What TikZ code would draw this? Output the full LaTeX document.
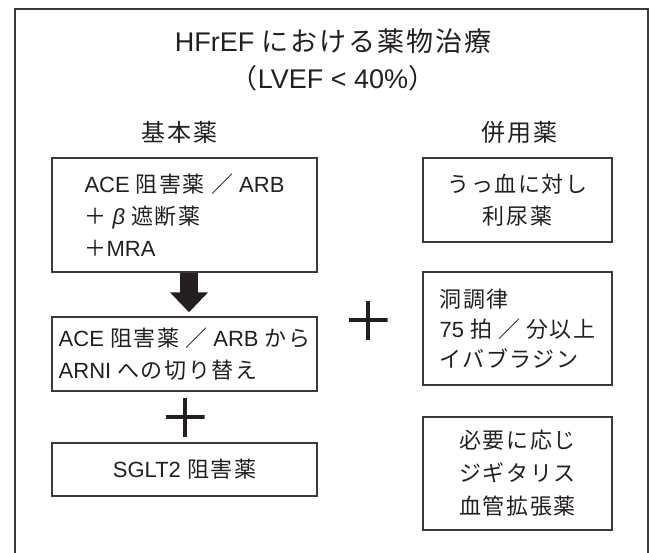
\documentclass[tikz,border=0pt]{standalone}
\usepackage{fontspec}
\setmainfont{Liberation Sans}
\newfontfamily\jpf[LetterSpace=7]{Noto Sans CJK JP}
\newcommand\jp[1]{{\jpf #1}}
\usetikzlibrary{arrows.meta}
\definecolor{ink}{HTML}{231F20}
\definecolor{edge}{HTML}{3A3A3A}
\tikzset{
  boxnode/.style={draw=edge, line width=1.4pt, text=ink, inner sep=0pt,
    font=\fontsize{22}{32}\selectfont},
  leftbox/.style={boxnode, align=left},
  centerbox/.style={boxnode, align=center},
  heading/.style={text=ink, font=\fontsize{24}{28}\selectfont},
  titlenode/.style={text=ink, align=center, font=\fontsize{27}{37}\selectfont},
  plussign/.style={minimum size=39pt, inner sep=0pt,
    path picture={\draw[line width=3.2pt, ink]
      (path picture bounding box.north) -- (path picture bounding box.south)
      (path picture bounding box.west) -- (path picture bounding box.east);}},
  bigarrow/.style={draw=ink, line width=18pt, -{Triangle[width=37pt,length=20pt]}}
}
\begin{document}
\begin{tikzpicture}[x=1pt,y=-1pt]
\useasboundingbox (0,0) rectangle (652,553);
% outer frame (open at bottom)
\draw[edge, line width=2pt] (14.7,553) -- (14.7,9.5) -- (648,9.5) -- (648,553);

\node[titlenode] (title) at (333,59.5) {HFrEF \jp{における薬物治療}\\\jp{（}LVEF < 40\%\jp{）}};

\node[heading] (h1) at (179.5,132) {\jp{基本薬}};
\node[heading] (h2) at (519.5,132) {\jp{併用薬}};

\node[leftbox, minimum width=265pt, minimum height=114pt] (b1) at (184.5,215)
  {ACE \jp{阻害薬} \jp{／} ARB\\\jp{＋} {\itshape β} \jp{遮断薬}\\\jp{＋}MRA};
\node[leftbox, minimum width=265pt, minimum height=74pt] (b2) at (184.5,354)
  {ACE \jp{阻害薬} \jp{／} ARB \jp{から}\\ARNI \jp{への切り替え}};
\node[centerbox, minimum width=265pt, minimum height=53pt] (b3) at (184.5,469.5)
  {SGLT2 \jp{阻害薬}};

\node[centerbox, minimum width=189pt, minimum height=84pt] (r1) at (517.5,200)
  {\jp{うっ血に対し}\\\jp{利尿薬}};
\node[leftbox, minimum width=189pt, minimum height=113pt, font=\fontsize{22}{30}\selectfont] (r2) at (517.5,328.5)
  {\jp{洞調律}\\75 \jp{拍} \jp{／} \jp{分以上}\\\jp{イバブラジン}};
\node[centerbox, minimum width=189pt, minimum height=113pt, font=\fontsize{22}{33}\selectfont] (r3) at (517.5,473.5)
  {\jp{必要に応じ}\\\jp{ジギタリス}\\\jp{血管拡張薬}};

\node[plussign] (p1) at (185,417) {};
\node[plussign] (p2) at (368,320) {};

\draw[bigarrow] ([xshift=4.5pt]b1.south) -- ([xshift=4.5pt,yshift=4pt]b2.north);
\end{tikzpicture}
\end{document}
